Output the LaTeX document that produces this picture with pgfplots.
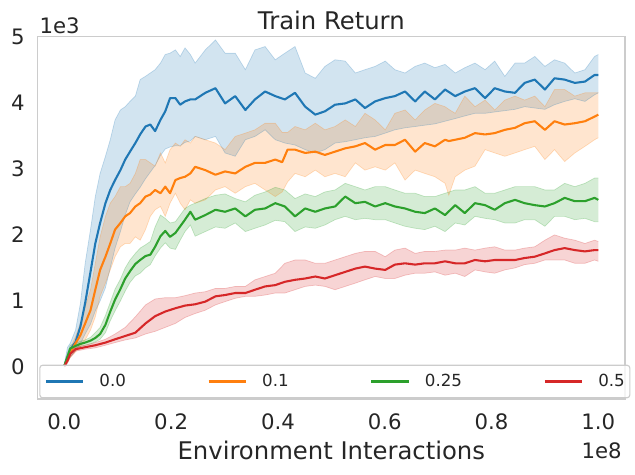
\documentclass[border=0pt]{standalone}
\usepackage{fontspec}
\setmainfont{DejaVu Sans}
\usepackage{pgfplots}
\usepackage{pgfplotstable}
\pgfplotsset{compat=1.18}
\usepgfplotslibrary{fillbetween}
\definecolor{C0}{HTML}{1F77B4}
\definecolor{C1}{HTML}{FF7F0E}
\definecolor{C2}{HTML}{2CA02C}
\definecolor{C3}{HTML}{D62728}
\definecolor{framegray}{HTML}{CCCCCC}
\definecolor{textgray}{HTML}{262626}

\pgfplotstableread{
x m lo hi
0.000 0.02 0.00 0.05
0.006 0.15 0.08 0.30
0.011 0.26 0.15 0.36
0.021 0.38 0.25 0.56
0.030 0.61 0.35 0.96
0.039 0.97 0.50 1.57
0.049 1.44 0.65 2.08
0.058 1.87 0.85 2.58
0.067 2.18 1.00 2.93
0.077 2.48 1.20 3.19
0.086 2.68 1.50 3.44
0.095 2.83 1.80 3.74
0.105 2.98 2.05 3.89
0.114 3.14 2.30 3.94
0.123 3.26 2.50 4.02
0.133 3.39 2.62 4.10
0.142 3.52 2.72 4.35
0.152 3.64 2.85 4.40
0.161 3.67 2.95 4.45
0.170 3.57 3.05 4.50
0.180 3.74 3.20 4.60
0.189 3.87 3.30 4.73
0.198 4.07 3.33 4.75
0.208 4.07 3.35 4.80
0.217 3.97 3.35 4.70
0.226 4.02 3.40 4.83
0.236 4.05 3.42 4.73
0.245 4.05 3.49 4.60
0.264 4.15 3.44 4.80
0.283 4.22 3.49 4.95
0.301 3.99 3.24 4.75
0.320 4.10 3.19 4.75
0.339 3.89 3.44 4.50
0.357 4.05 3.49 4.80
0.376 4.17 3.59 4.85
0.395 4.10 3.44 4.65
0.413 4.05 3.39 4.75
0.432 4.15 3.36 4.85
0.451 3.94 3.29 4.45
0.470 3.82 3.24 4.37
0.488 3.87 3.29 4.55
0.507 3.97 3.39 4.65
0.526 3.99 3.41 4.63
0.545 4.05 3.44 4.45
0.563 3.92 3.47 4.50
0.582 4.02 3.49 4.55
0.601 4.07 3.54 4.63
0.619 4.10 3.59 4.50
0.638 4.17 3.62 4.45
0.657 4.02 3.64 4.55
0.675 4.17 3.66 4.60
0.694 4.05 3.68 4.53
0.713 4.20 3.72 4.58
0.732 4.10 3.76 4.45
0.750 4.17 3.80 4.53
0.769 4.22 3.84 4.60
0.788 4.07 3.84 4.50
0.806 4.22 3.86 4.63
0.825 4.17 3.88 4.40
0.844 4.15 3.90 4.60
0.862 4.30 3.94 4.60
0.881 4.35 3.92 4.70
0.900 4.20 3.90 4.55
0.918 4.37 3.97 4.65
0.937 4.35 4.02 4.60
0.956 4.30 4.06 4.45
0.975 4.32 4.02 4.50
0.993 4.42 4.12 4.70
1.000 4.42 4.15 4.73
}\blue

\pgfplotstableread{
x m lo hi
0.000 0.02 0.00 0.04
0.006 0.12 0.07 0.18
0.011 0.22 0.14 0.28
0.021 0.36 0.23 0.46
0.030 0.48 0.31 0.66
0.039 0.66 0.41 0.91
0.049 0.86 0.56 1.17
0.058 1.17 0.76 1.57
0.067 1.47 1.07 1.97
0.077 1.67 1.27 2.28
0.086 1.87 1.47 2.48
0.095 2.08 1.67 2.58
0.105 2.18 1.82 2.73
0.114 2.28 1.87 2.73
0.123 2.33 1.87 2.78
0.133 2.43 1.97 2.93
0.142 2.48 1.92 3.14
0.152 2.58 2.08 3.14
0.161 2.61 2.28 3.09
0.170 2.68 2.38 3.04
0.180 2.63 2.43 3.24
0.189 2.73 2.28 3.09
0.198 2.63 2.48 3.29
0.208 2.83 2.63 3.39
0.217 2.86 2.48 3.34
0.226 2.88 2.38 3.44
0.236 2.93 2.53 3.39
0.245 3.03 2.48 3.49
0.264 2.98 2.53 3.44
0.283 2.91 2.68 3.39
0.301 2.96 2.73 3.29
0.320 2.93 2.63 3.49
0.339 3.03 2.73 3.54
0.357 3.09 2.78 3.59
0.376 3.09 2.68 3.69
0.395 3.14 2.58 3.69
0.408 3.10 2.65 3.55
0.418 3.29 2.80 3.55
0.432 3.29 2.93 3.64
0.451 3.24 2.88 3.59
0.470 3.26 2.98 3.69
0.488 3.21 2.88 3.59
0.507 3.26 2.93 3.64
0.526 3.31 2.88 3.74
0.545 3.34 3.09 3.64
0.563 3.39 2.98 3.84
0.582 3.29 3.03 3.74
0.601 3.36 2.98 3.59
0.619 3.36 3.09 3.84
0.638 3.44 2.83 3.89
0.657 3.26 2.98 3.74
0.675 3.39 2.93 3.89
0.694 3.34 2.88 3.99
0.713 3.44 2.78 3.94
0.720 3.42 2.60 3.90
0.732 3.44 2.88 3.84
0.750 3.47 2.98 4.10
0.769 3.54 3.04 3.94
0.788 3.52 3.29 4.04
0.806 3.54 3.24 3.89
0.825 3.59 3.19 4.04
0.844 3.62 3.24 4.10
0.862 3.69 3.29 4.04
0.881 3.72 3.34 4.10
0.900 3.59 3.14 3.94
0.918 3.72 3.29 4.20
0.937 3.67 3.11 4.20
0.956 3.69 3.24 4.10
0.975 3.72 3.34 4.15
0.993 3.79 3.44 4.15
1.000 3.82 3.47 4.15
}\orange

\pgfplotstableread{
x m lo hi
0.000 0.02 0.00 0.04
0.006 0.16 0.10 0.22
0.011 0.28 0.22 0.33
0.021 0.32 0.28 0.36
0.030 0.35 0.31 0.39
0.039 0.37 0.33 0.41
0.049 0.40 0.35 0.45
0.058 0.44 0.38 0.52
0.067 0.50 0.42 0.60
0.077 0.64 0.52 0.78
0.086 0.84 0.70 0.98
0.095 1.02 0.85 1.18
0.105 1.18 1.00 1.33
0.114 1.34 1.15 1.50
0.123 1.45 1.28 1.62
0.133 1.56 1.38 1.72
0.142 1.62 1.42 1.80
0.152 1.68 1.50 1.85
0.161 1.70 1.55 1.90
0.170 1.82 1.68 2.12
0.180 1.98 1.80 2.30
0.189 2.06 1.88 2.25
0.198 1.97 1.80 2.18
0.208 2.03 1.78 2.20
0.217 2.13 1.92 2.30
0.226 2.23 2.05 2.40
0.236 2.35 2.15 2.45
0.245 2.23 1.98 2.48
0.264 2.30 2.05 2.55
0.283 2.38 2.12 2.60
0.301 2.35 2.10 2.62
0.320 2.40 2.18 2.55
0.339 2.28 2.05 2.50
0.357 2.38 2.10 2.60
0.376 2.40 2.15 2.65
0.395 2.48 2.22 2.72
0.413 2.43 2.20 2.68
0.432 2.28 2.05 2.55
0.451 2.40 2.12 2.62
0.470 2.35 2.10 2.58
0.488 2.40 2.15 2.65
0.507 2.43 2.23 2.68
0.526 2.58 2.28 2.78
0.545 2.48 2.23 2.73
0.563 2.50 2.25 2.68
0.582 2.43 2.23 2.73
0.601 2.48 2.23 2.73
0.619 2.43 2.18 2.68
0.638 2.40 2.13 2.63
0.657 2.35 2.10 2.63
0.675 2.33 2.08 2.58
0.694 2.40 2.13 2.58
0.713 2.30 2.05 2.63
0.732 2.45 2.18 2.68
0.750 2.33 2.15 2.68
0.769 2.48 2.28 2.73
0.788 2.45 2.25 2.63
0.806 2.38 2.23 2.63
0.825 2.48 2.18 2.68
0.844 2.53 2.18 2.73
0.862 2.48 2.23 2.73
0.881 2.45 2.23 2.73
0.900 2.43 2.13 2.68
0.918 2.48 2.28 2.68
0.937 2.56 2.28 2.78
0.956 2.51 2.23 2.73
0.975 2.51 2.25 2.78
0.993 2.56 2.20 2.86
1.000 2.53 2.20 2.86
}\green

\pgfplotstableread{
x m lo hi
0.000 0.01 0.00 0.03
0.006 0.10 0.06 0.14
0.011 0.20 0.15 0.24
0.021 0.27 0.24 0.30
0.039 0.30 0.27 0.33
0.058 0.33 0.29 0.37
0.077 0.37 0.33 0.42
0.095 0.42 0.37 0.50
0.114 0.47 0.41 0.60
0.133 0.52 0.44 0.76
0.152 0.66 0.50 0.94
0.170 0.77 0.54 1.03
0.189 0.84 0.60 1.05
0.208 0.89 0.66 1.05
0.226 0.93 0.75 1.08
0.245 0.95 0.81 1.12
0.264 0.99 0.86 1.14
0.283 1.07 0.94 1.19
0.301 1.09 0.99 1.19
0.320 1.12 1.04 1.22
0.339 1.12 1.07 1.22
0.357 1.17 1.07 1.32
0.376 1.22 1.09 1.37
0.395 1.24 1.12 1.42
0.413 1.29 1.12 1.57
0.432 1.32 1.17 1.62
0.451 1.34 1.22 1.62
0.470 1.37 1.24 1.57
0.488 1.34 1.22 1.57
0.507 1.39 1.17 1.62
0.526 1.44 1.22 1.67
0.545 1.49 1.27 1.72
0.563 1.52 1.32 1.75
0.582 1.49 1.37 1.75
0.601 1.47 1.34 1.67
0.619 1.55 1.34 1.77
0.638 1.57 1.39 1.80
0.657 1.55 1.42 1.72
0.675 1.57 1.42 1.75
0.694 1.57 1.44 1.75
0.713 1.60 1.39 1.77
0.732 1.57 1.42 1.77
0.750 1.57 1.37 1.80
0.769 1.62 1.47 1.77
0.788 1.60 1.44 1.80
0.806 1.62 1.42 1.82
0.825 1.62 1.47 1.77
0.844 1.62 1.50 1.77
0.862 1.65 1.55 1.80
0.881 1.67 1.57 1.82
0.900 1.72 1.62 1.92
0.918 1.77 1.62 2.00
0.937 1.80 1.62 1.95
0.956 1.77 1.57 1.92
0.975 1.75 1.57 1.87
0.993 1.77 1.62 1.92
1.000 1.77 1.60 1.90
}\red

\begin{document}
\begin{tikzpicture}
\path (0,0) rectangle (457.2pt,342pt);
\begin{axis}[
  at={(27.1pt,54.7pt)}, anchor=south west,
  scale only axis, width=422.9pt, height=260.9pt,
  xmin=-0.05, xmax=1.05, ymin=-0.484, ymax=5,
  xtick={0,0.2,0.4,0.6,0.8,1.0},
  xticklabels={0.0,0.2,0.4,0.6,0.8,1.0},
  ytick={0,1,2,3,4,5},
  yticklabels={0,1,2,3,4,5},
  /pgf/number format/assume math mode=true,
  major tick length=0pt,
  axis line style={draw=framegray, line width=1pt},
  tick label style={font=\fontsize{15.3}{18}\selectfont, text=textgray, inner sep=0pt},
  xticklabel style={anchor=base, yshift=-22.3pt},
  yticklabel style={anchor=east, xshift=-9.1pt},
  title={Train Return},
  title style={at={(axis description cs:0.5,1)}, anchor=base, yshift=-0.7pt, font=\fontsize{17.5}{21}\selectfont, text=textgray, inner sep=0pt},
  xlabel={Environment Interactions},
  xlabel style={at={(axis description cs:0.5,0)}, anchor=base, yshift=-43.9pt, font=\fontsize{17.5}{21}\selectfont, text=textgray, inner sep=0pt},
  legend columns=4,
  legend image code/.code={\draw[#1, line width=1.5pt] (0pt,0pt) -- (27pt,0pt);},
  legend style={
    at={(axis description cs:0,0)}, anchor=south west, xshift=1.2pt, yshift=0.5pt,
    draw=framegray, line width=0.8pt, rounded corners=2pt,
    fill=white, fill opacity=0.8, text opacity=1,
    inner xsep=3.6pt, inner ysep=6.5pt,
    font=\fontsize{12}{14}\selectfont, text=textgray,
    nodes={inner sep=0pt},
    /tikz/every odd column/.append style={column sep=10.8pt},
    /tikz/every even column/.append style={column sep=58.8pt},
  },
  after end axis/.code={
    \node[anchor=base west, inner sep=0pt, font=\fontsize{15.3}{18}\selectfont, text=textgray] at ([xshift=1.2pt,yshift=2.6pt]axis description cs:0,1) {1e3};
    \node[anchor=base east, inner sep=0pt, font=\fontsize{15.3}{18}\selectfont, text=textgray] at ([xshift=-2.2pt,yshift=-42.5pt]axis description cs:1,0) {1e8};
  },
]
% bands
\addplot[name path=bh, draw=C0, draw opacity=0.25, line width=0.5pt, forget plot] table[x=x,y=hi]{\blue};
\addplot[name path=bl, draw=C0, draw opacity=0.25, line width=0.5pt, forget plot] table[x=x,y=lo]{\blue};
\addplot[fill=C0, fill opacity=0.2, draw=none, forget plot] fill between[of=bh and bl];
\addplot[name path=oh, draw=C1, draw opacity=0.25, line width=0.5pt, forget plot] table[x=x,y=hi]{\orange};
\addplot[name path=ol, draw=C1, draw opacity=0.25, line width=0.5pt, forget plot] table[x=x,y=lo]{\orange};
\addplot[fill=C1, fill opacity=0.2, draw=none, forget plot] fill between[of=oh and ol];
\addplot[name path=gh, draw=C2, draw opacity=0.25, line width=0.5pt, forget plot] table[x=x,y=hi]{\green};
\addplot[name path=gl, draw=C2, draw opacity=0.25, line width=0.5pt, forget plot] table[x=x,y=lo]{\green};
\addplot[fill=C2, fill opacity=0.2, draw=none, forget plot] fill between[of=gh and gl];
\addplot[name path=rh, draw=C3, draw opacity=0.25, line width=0.5pt, forget plot] table[x=x,y=hi]{\red};
\addplot[name path=rl, draw=C3, draw opacity=0.25, line width=0.5pt, forget plot] table[x=x,y=lo]{\red};
\addplot[fill=C3, fill opacity=0.2, draw=none, forget plot] fill between[of=rh and rl];
% means
\addplot[C0, line width=1.5pt, line join=round] table[x=x,y=m]{\blue};
\addlegendentry{0.0}
\addplot[C1, line width=1.5pt, line join=round] table[x=x,y=m]{\orange};
\addlegendentry{0.1}
\addplot[C2, line width=1.5pt, line join=round] table[x=x,y=m]{\green};
\addlegendentry{0.25}
\addplot[C3, line width=1.5pt, line join=round] table[x=x,y=m]{\red};
\addlegendentry{0.5}
\end{axis}
\end{tikzpicture}
\end{document}
